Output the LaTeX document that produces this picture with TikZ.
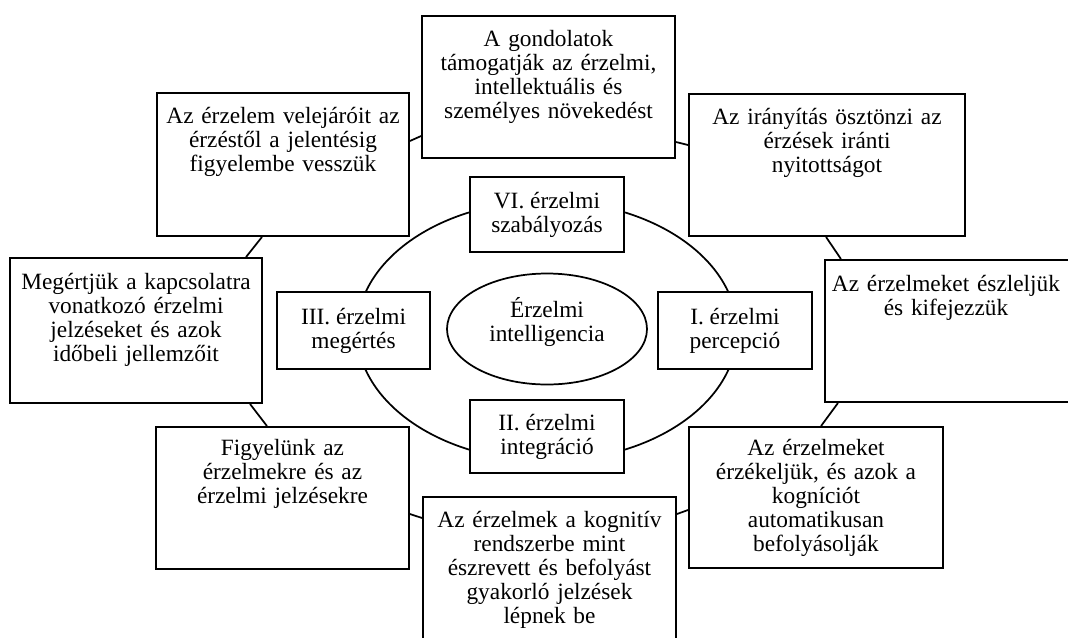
\documentclass[tikz,border=0pt]{standalone}
\usepackage{fontspec}
\setmainfont{Liberation Serif}
\usetikzlibrary{shapes.geometric}
\begin{document}
\begin{tikzpicture}[x=0.75pt,y=-0.75pt,
  every node/.style={font=\fontsize{17.5pt}{18pt}\selectfont},
  obox/.style={draw, line width=1.4pt, rectangle, inner sep=0pt, fill=white},
  otext/.style={anchor=north, align=center, inner sep=0pt, text width=186pt, text height=12pt},
  ibox/.style={draw, line width=1.4pt, rectangle, inner sep=0pt, fill=white, align=center},
  link/.style={line width=1.3pt}
]
\useasboundingbox (0,0) rectangle (1068,637);
\clip (0,0) rectangle (1068,637);
\fill[white] (0,0) rectangle (1068,637);

% ring
\draw[link] (547,331) ellipse [x radius=142.5pt, y radius=97.5pt];

% centre
\node[draw, ellipse, line width=1.3pt, minimum width=150pt, minimum height=83.25pt, inner sep=0pt, fill=white] (C) at (547,329) {};
\node[align=center, inner sep=0pt] (Ct) at ([yshift=5pt]C.center) {Érzelmi\\intelligencia};

% inner boxes
\node[ibox, minimum width=115.5pt, minimum height=56.25pt] (VI) at (547,214.5) {VI. érzelmi\\szabályozás};
\node[ibox, minimum width=114.75pt, minimum height=57.75pt] (III) at (353.5,330.5) {III. érzelmi\\megértés};
\node[ibox, minimum width=115.5pt, minimum height=57.75pt] (I) at (735,330.5) {I. érzelmi\\percepció};
\node[ibox, minimum width=115.5pt, minimum height=54.75pt] (II) at (547,436.5) {II. érzelmi\\integráció};

% outer boxes
\node[obox, minimum width=189.75pt, minimum height=106.5pt] (T) at (548.5,87) {};
\node[obox, minimum width=189pt, minimum height=107.25pt] (TL) at (283,164.5) {};
\node[obox, minimum width=207pt, minimum height=106.5pt] (TR) at (827,165) {};
\node[obox, minimum width=189pt, minimum height=108.75pt] (L) at (136,330.5) {};
\node[obox, minimum width=187.5pt, minimum height=106.5pt] (R) at (950,331) {};
\node[obox, minimum width=190.5pt, minimum height=105.75pt] (BR) at (816,497.5) {};
\node[obox, minimum width=189.75pt, minimum height=111pt] (B) at (549.5,571) {};
\node[obox, minimum width=189.75pt, minimum height=106.5pt] (BL) at (282.5,498) {};

% outer texts
\node[otext] (tT) at (T.north |- 0,30) {A gondolatok\\támogatják az érzelmi,\\intellektuális és\\személyes növekedést};
\node[otext] (tTL) at (TL.north |- 0,107) {Az érzelem velejáróit az\\érzéstől a jelentésig\\figyelembe vesszük};
\node[otext] (tTR) at (TR.north |- 0,108) {Az irányítás ösztönzi az\\érzések iránti\\nyitottságot};
\node[otext] (tL) at (L.north |- 0,273) {Megértjük a kapcsolatra\\vonatkozó érzelmi\\jelzéseket és azok\\időbeli jellemzőit};
\node[otext] (tR) at (946,275) {Az érzelmeket észleljük\\és kifejezzük};
\node[otext] (tBR) at (BR.north |- 0,439) {Az érzelmeket\\érzékeljük, és azok a\\kogníciót\\automatikusan\\befolyásolják};
\node[otext] (tB) at (B.north |- 0,511) {Az érzelmek a kognitív\\rendszerbe mint\\észrevett és befolyást\\gyakorló jelzések\\lépnek be};
\node[otext] (tBL) at (BL.north |- 0,439) {Figyelünk az\\érzelmekre és az\\érzelmi jelzésekre};

% outer links
\draw[link] (TL.east |- 0,141) -- (T.west |- 0,136);
\draw[link] (T.east |- 0,142) -- (TR.west |- 0,145);
\draw[link] (TR.south -| 826,0) -- (R.north -| 841,0);
\draw[link] (R.south -| 838,0) -- (BR.north -| 821,0);
\draw[link] (BR.west |- 0,510) -- (B.east |- 0,514);
\draw[link] (B.west |- 0,518) -- (BL.east |- 0,514);
\draw[link] (BL.north -| 267,0) -- (L.south -| 250,0);
\draw[link] (L.north -| 246,0) -- (TL.south -| 262,0);
\end{tikzpicture}
\end{document}
